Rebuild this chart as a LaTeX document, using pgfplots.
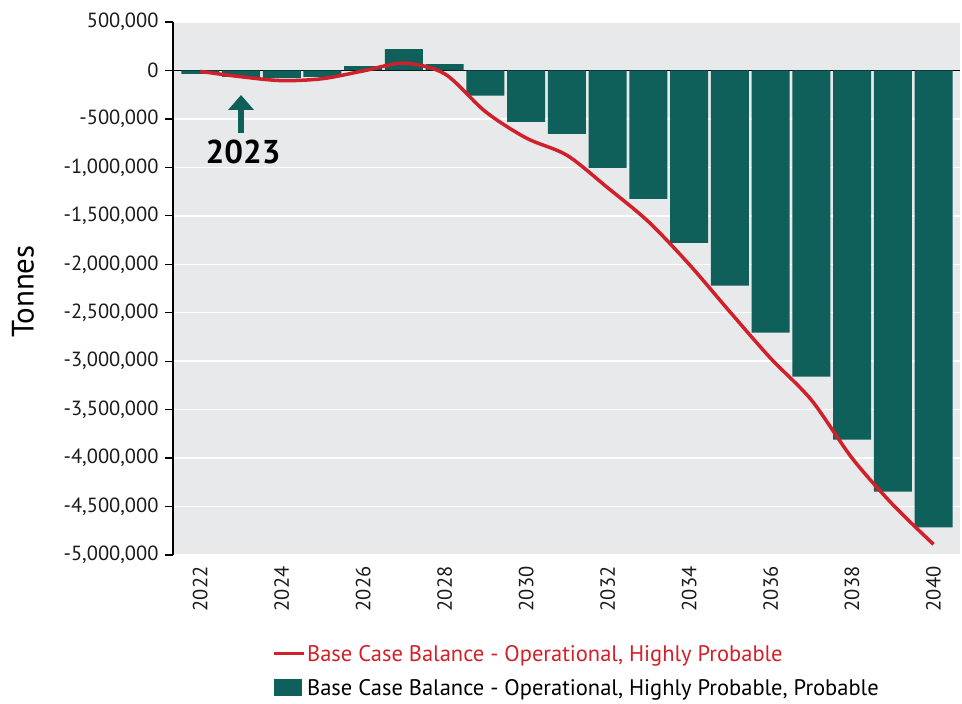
\documentclass[border=0pt]{standalone}
\usepackage{fontspec}
\setmainfont{PT Sans}
\usepackage{pgfplots}
\pgfplotsset{compat=1.18}
\usetikzlibrary{arrows.meta}
\definecolor{barcol}{HTML}{0F5F5A}
\definecolor{linecol}{HTML}{D2202A}
\definecolor{bggray}{HTML}{E8E9EB}
\definecolor{txt}{HTML}{1A1A1A}
\begin{document}
\begin{tikzpicture}
\begin{axis}[
  scale only axis, width=787pt, height=533pt,
  xmin=2021.33, xmax=2040.65, ymin=-5000000, ymax=500000,
  axis background/.style={fill=bggray},
  axis x line*=bottom, axis y line*=left,
  x axis line style={draw=none},
  y axis line style={black, line width=1.6pt, -},
  xtick={2022,2024,...,2040},
  xtick style={draw=none},
  x tick label style={rotate=90, anchor=east, text=txt, font=\fontsize{20.5}{24}\selectfont, /pgf/number format/.cd, 1000 sep={}},
  ytick={-5000000,-4500000,...,500000},
  ytick style={black, line width=1.2pt},
  tick align=outside, major tick length=8pt,
  y tick label style={text=txt, xshift=-3pt, font=\fontsize{20.5}{24}\selectfont, /pgf/number format/.cd, fixed, 1000 sep={,}},
  /pgf/number format/assume math mode=true,
  scaled y ticks=false,
  ymajorgrids, grid style={white, line width=1.5pt},
  ylabel={Tonnes},
  every axis y label/.style={at={(rel axis cs:0,0.5)}, xshift=-150pt, yshift=-3pt, rotate=90, anchor=center, font=\fontsize{31}{34}\selectfont},
  legend style={at={(rel axis cs:0,0)}, anchor=north west, xshift=99pt, yshift=-88pt, draw=none, fill=none, font=\fontsize{22.5}{26}\selectfont, row sep=13pt, inner sep=0pt},
  legend cell align=left,
  reverse legend,
]
\coordinate (sw) at (rel axis cs:0,0);
\draw[black, line width=1.2pt] (axis cs:2021.33,0) -- (axis cs:2040.65,0);
\addplot[ybar, bar width=38pt, fill=barcol, draw=none,
  legend image code/.code={\fill[barcol] (0pt,-8pt) rectangle (28pt,9pt);}]
  coordinates {
  (2022,-35000) (2023,-65000) (2024,-80000) (2025,-65000) (2026,45000)
  (2027,220000) (2028,65000) (2029,-260000) (2030,-530000) (2031,-655000)
  (2032,-1005000) (2033,-1325000) (2034,-1780000) (2035,-2220000) (2036,-2705000)
  (2037,-3160000) (2038,-3810000) (2039,-4345000) (2040,-4715000)
  };
\addlegendentry{Base Case Balance - Operational, Highly Probable, Probable}
\addplot[linecol, line width=3.5pt, smooth, tension=0.5,
  legend image code/.code={\draw[linecol, line width=3pt] (0pt,0pt) -- (30pt,0pt);}]
  coordinates {
  (2022,-10000) (2023,-65000) (2024,-105000) (2025,-85000) (2026,-5000)
  (2027,75000) (2028,-35000) (2029,-425000) (2030,-697000) (2031,-875000)
  (2032,-1210000) (2033,-1560000) (2034,-2000000) (2035,-2490000) (2036,-2970000)
  (2037,-3400000) (2038,-4000000) (2039,-4480000) (2040,-4890000)
  };
\addlegendentry{\textcolor{linecol}{Base Case Balance - Operational, Highly Probable}}
\draw[barcol, line width=6pt, -{Triangle[width=25pt,length=15pt]}] (axis cs:2023,-642000) -- (axis cs:2023,-253000);
\node[font=\bfseries\fontsize{33}{36}\selectfont, text=black] at (axis cs:2023.05,-845000) {2023};
\end{axis}
\pgfresetboundingbox
\path (sw) ++(-173pt,-149pt) rectangle ++(962pt,704pt);
\end{tikzpicture}
\end{document}
